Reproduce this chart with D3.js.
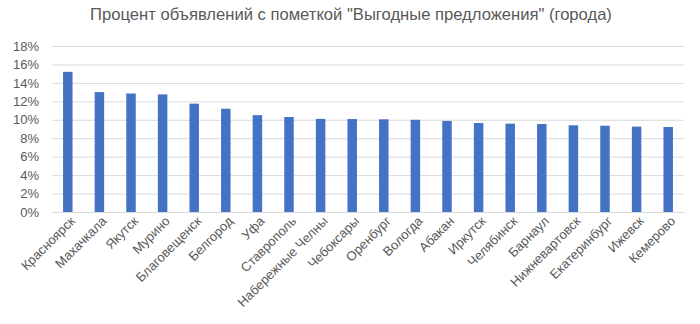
<!DOCTYPE html>
<html><head><meta charset="utf-8">
<script src="https://cdn.jsdelivr.net/npm/d3@7"></script>
<style>body{margin:0;background:#fff}svg{display:block}</style>
</head><body>
<script>
const categories = ["Красноярск","Махачкала","Якутск","Мурино","Благовещенск","Белгород","Уфа","Ставрополь","Набережные Челны","Чебоксары","Оренбург","Вологда","Абакан","Иркутск","Челябинск","Барнаул","Нижневартовск","Екатеринбург","Ижевск","Кемерово"];
const values = [15.2,13.0,12.85,12.75,11.75,11.2,10.5,10.3,10.1,10.08,10.05,10.0,9.87,9.65,9.58,9.54,9.4,9.36,9.26,9.22];
const yTicks = [0,2,4,6,8,10,12,14,16,18];
const title = "Процент объявлений с пометкой \"Выгодные предложения\" (города)";

const W=700,H=324;
const m={left:52,right:16,top:46,bottom:112};
const svg=d3.select("body").append("svg").attr("width",W).attr("height",H);
const font="Liberation Sans, Arial, sans-serif";
const x=d3.scaleBand().domain(categories).range([m.left,W-m.right]).paddingInner(0.7).paddingOuter(0.35);
const y=d3.scaleLinear().domain([0,18]).range([H-m.bottom,m.top]);

svg.append("text").attr("x",351).attr("y",19.5).attr("text-anchor","middle")
  .attr("font-family",font).attr("font-size",16.6).attr("fill","#595959").text(title);

const ga=svg.append("g").attr("transform",`translate(${m.left},0)`)
  .call(d3.axisLeft(y).tickValues(yTicks).tickSize(-(W-m.left-m.right)).tickPadding(13).tickFormat(d=>d+"%"));
ga.select(".domain").remove();
ga.selectAll(".tick line").attr("stroke","#d9d9d9");
ga.selectAll(".tick text").attr("font-family",font).attr("font-size",13).attr("fill","#595959");

svg.append("g").selectAll("rect").data(values).join("rect")
  .attr("x",(d,i)=>x(categories[i])).attr("width",x.bandwidth())
  .attr("y",d=>y(d)).attr("height",d=>y(0)-y(d)).attr("fill","#4472C4");

const gx=svg.append("g").attr("transform",`translate(0,${H-m.bottom})`)
  .call(d3.axisBottom(x).tickSize(0).tickPadding(0));
gx.select(".domain").attr("stroke","#d9d9d9");
gx.selectAll(".tick text").attr("font-family",font).attr("font-size",13).attr("fill","#595959")
  .attr("text-anchor","end").attr("dy",0).attr("transform","translate(8,10) rotate(-45)");
</script>
</body></html>
